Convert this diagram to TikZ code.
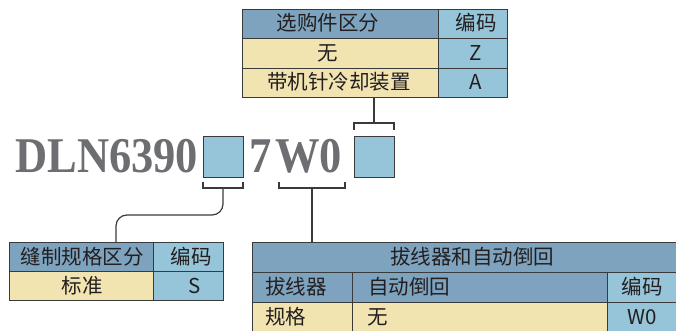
\documentclass[tikz,border=0pt]{standalone}
\usepackage{fontspec}
\setmainfont{Noto Sans CJK SC}
\newfontfamily\codefont{Liberation Serif}
\definecolor{hdr}{HTML}{7DA3BF}
\definecolor{codec}{HTML}{96C4D8}
\definecolor{cream}{HTML}{F2E4B0}
\definecolor{lin}{HTML}{3A3A3A}
\definecolor{gtxt}{HTML}{6D6E71}
\definecolor{ink}{HTML}{231F20}
\newcommand{\tcell}[6]{\node[cellbox, fill=#6, minimum width={(#4-#2)*1pt}, minimum height={(#5-#3)*1pt}] (#1) at (#2,#3) {};}
\newcommand{\bigtxt}[1]{\scalebox{0.89}[1]{\codefont\bfseries\fontsize{50}{50}\selectfont #1}}
\tikzset{
  cellbox/.style={draw=lin, line width=1pt, inner sep=0pt, anchor=north west},
  txt/.style={inner sep=0pt, text=ink, font=\fontsize{20.5}{24}\selectfont},
  bigcode/.style={inner sep=0pt, anchor=base west, text=gtxt},
  slot/.style={draw=lin, line width=1pt, fill=codec, inner sep=0pt, anchor=north west, minimum width=40pt, minimum height=41pt},
  conn/.style={draw=lin, line width=1.2pt},
}
\begin{document}
\begin{tikzpicture}[x=1pt,y=-1pt]
\useasboundingbox (0,0) rectangle (676,331);
% top table
\tcell{ta}{242}{9}{438}{38}{hdr}
\tcell{tb}{438}{9}{507}{38}{codec}
\tcell{tc}{242}{38}{438}{68}{cream}
\tcell{td}{438}{38}{507}{68}{codec}
\tcell{te}{242}{68}{438}{97}{cream}
\tcell{tf}{438}{68}{507}{97}{codec}
\node[txt] (ta1) at (328,23) {选购件区分};
\node[txt] (tb1) at (476,23) {编码};
\node[txt] (tc1) at (328,53) {无};
\node[txt] (td1) at (476,53) {Z};
\node[txt] (te1) at (339,82) {带机针冷却装置};
\node[txt] (tf1) at (476,82) {A};
% code line
\node[bigcode] (c1) at (15,172) {\bigtxt{DLN6390}};
\node[slot] (s1) at (203,136) {};
\node[bigcode] (c2) at (249,172) {\bigtxt{7}};
\node[bigcode] (c3) at (275,172) {\bigtxt{W0}};
\node[slot] (s2) at (354,136) {};
% brackets
\coordinate (k1) at (223,188);
\coordinate (k2) at (312,188);
\coordinate (k3) at (374,123);
\draw[conn] (203,182) -- (203,188) -- (243,188) -- (243,182);
\draw[conn] (279,182) -- (279,188) -- (345,188) -- (345,182);
\draw[conn] (354,130) -- (354,123) -- (394,123) -- (394,130);
% left table
\tcell{la}{9}{242}{153}{271}{hdr}
\tcell{lb}{153}{242}{223}{271}{codec}
\tcell{lc}{9}{271}{153}{300}{cream}
\tcell{ld}{153}{271}{223}{300}{codec}
\node[txt] (la1) at (82,256.5) {缝制规格区分};
\node[txt] (lb1) at (191,256.5) {编码};
\node[txt] (lc1) at (82,285.5) {标准};
\node[txt] (ld1) at (195,285.5) {S};
% right table
\tcell{ra}{252}{242}{677}{272}{hdr}
\tcell{rb}{252}{272}{352}{302}{hdr}
\tcell{rc}{352}{272}{607}{302}{hdr}
\tcell{rd}{607}{272}{677}{302}{codec}
\tcell{re}{252}{302}{352}{340}{cream}
\tcell{rf}{352}{302}{607}{340}{cream}
\tcell{rg}{607}{302}{677}{340}{codec}
\node[txt] (ra1) at (472,257) {拔线器和自动倒回};
\node[txt, anchor=west] (rb1) at (265,287) {拔线器};
\node[txt, anchor=west] (rc1) at (368,287) {自动倒回};
\node[txt] (rd1) at (642,287) {编码};
\node[txt, anchor=west] (re1) at (265,317) {规格};
\node[txt, anchor=west] (rf1) at (367,317) {无};
\node[txt] (rg1) at (642,317) {W0};
% connectors
\draw[conn, rounded corners=11pt] (k1) -- (k1 |- 0,215) -- (116,215) -- (la.north -| 116,0);
\draw[conn] (k2) -- (k2 |- ra.north);
\draw[conn] (k3) -- (k3 |- te.south);
\end{tikzpicture}
\end{document}
